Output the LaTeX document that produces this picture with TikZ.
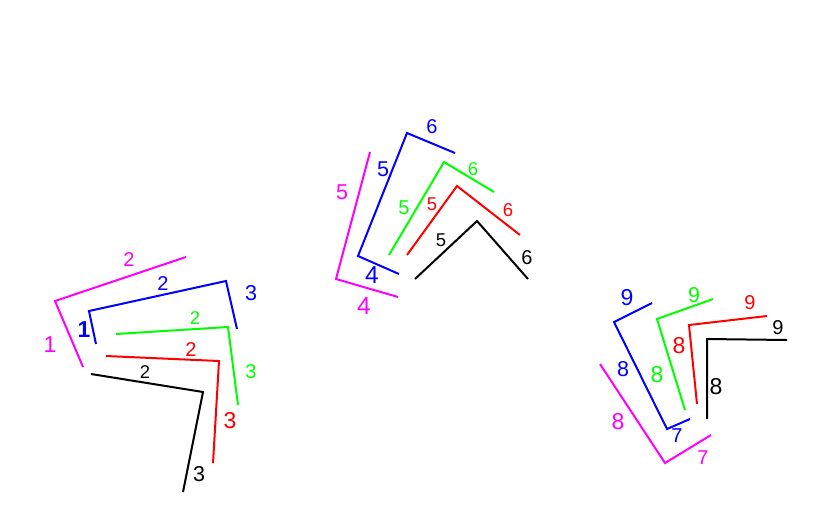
\documentclass[tikz,border=0pt]{standalone}
\usepackage{fontspec}
\setmainfont{Liberation Sans}
\usepackage{tikz}
\usetikzlibrary{positioning}
\definecolor{magenta}{RGB}{255,0,255}
\definecolor{blue}{RGB}{0,0,255}
\definecolor{green}{RGB}{0,255,0}
\definecolor{red}{RGB}{255,0,0}
\tikzset{
        every path/.style={line width=2pt},
        every node/.style={inner sep=0pt,outer sep=0pt,font=\fontsize{20}{20}\selectfont},
        small/.style={font=\fontsize{18.5}{18.5}\selectfont},
        mid/.style={font=\fontsize{21.5}{21.5}\selectfont},
        big/.style={font=\fontsize{23}{23}\selectfont},
        huge/.style={font=\fontsize{24.5}{24.5}\selectfont},
        }
\begin{document}
\begin{tikzpicture}[x=1pt,y=-1pt]
			\useasboundingbox (0,0) rectangle (830,515);

			% left group
			\draw [magenta] (83,367) -- (55,301) -- (186,257);
			\node [magenta, big] (lm1) at (50,345) {1};
			\node [magenta] (lm2) at (129,260) {2};

			\draw [blue] (96,344) -- (89,311) -- (226,281) -- (237,329);
			\node [blue, big] (lb1) at (84,330) {\bfseries 1};
			\node [blue] (lb2) at (163,284) {2};
			\node [blue, mid] (lb3) at (251,293) {3};

			\draw [green] (116,334) -- (228,327) -- (238,405);
			\node [green, small] (lg2) at (195,318) {2};
			\node [green] (lg3) at (251,372) {3};

			\draw [red] (106,356) -- (219,361) -- (213,463);
			\node [red] (lr2) at (191,350) {2};
			\node [red, big] (lr3) at (230,421) {3};

			\draw [black] (91,374) -- (203,392) -- (183,492);
			\node [black, small] (lk2) at (145,372) {2};
			\node [black, mid] (lk3) at (199,474) {3};

			% middle group
			\draw [magenta] (370,152) -- (336,279) -- (398,297);
			\node [magenta, mid] (mm5) at (342,192) {5};
			\node [magenta, huge] (mm4) at (364,306) {4};

			\draw [blue] (399,274) -- (358,256) -- (407,133) -- (455,153);
			\node [blue, huge] (mb4) at (372,275) {4};
			\node [blue, mid] (mb5) at (383,169) {5};
			\node [blue] (mb6) at (432,127) {6};

			\draw [green] (389,255) -- (444,162) -- (494,192);
			\node [green] (mg5) at (404,208) {5};
			\node [green, small] (mg6) at (473,169) {6};

			\draw [red] (407,255) -- (457,186) -- (520,235);
			\node [red, small] (mr5) at (432,204) {5};
			\node [red, small] (mr6) at (508,210) {6};

			\draw [black] (415,279) -- (477,221) -- (528,279);
			\node [black, small] (mk5) at (441,240) {5};
			\node [black] (mk6) at (527,258) {6};

			% right group
			\draw [magenta] (600,364) -- (665,463) -- (711,435);
			\node [magenta, big] (rm8) at (618,422) {8};
			\node [magenta] (rm7) at (703,458) {7};

			\draw [blue] (690,419) -- (667,429) -- (614,322) -- (652,303);
			\node [blue] (rb7) at (677,436) {7};
			\node [blue, mid] (rb8) at (623,369) {8};
			\node [blue, big] (rb9) at (627,298) {9};

			\draw [green] (685,410) -- (657,319) -- (713,299);
			\node [green, big] (rg8) at (657,375) {8};
			\node [green, mid] (rg9) at (694,295) {9};

			\draw [red] (697,404) -- (689,325) -- (767,316);
			\node [red, big] (rr8) at (679,346) {8};
			\node [red] (rr9) at (750,303) {9};

			\draw [black] (707,419) -- (707,339) -- (787,340);
			\node [black, big] (rk8) at (716,387) {8};
			\node [black] (rk9) at (778,328) {9};
		\end{tikzpicture}
\end{document}
